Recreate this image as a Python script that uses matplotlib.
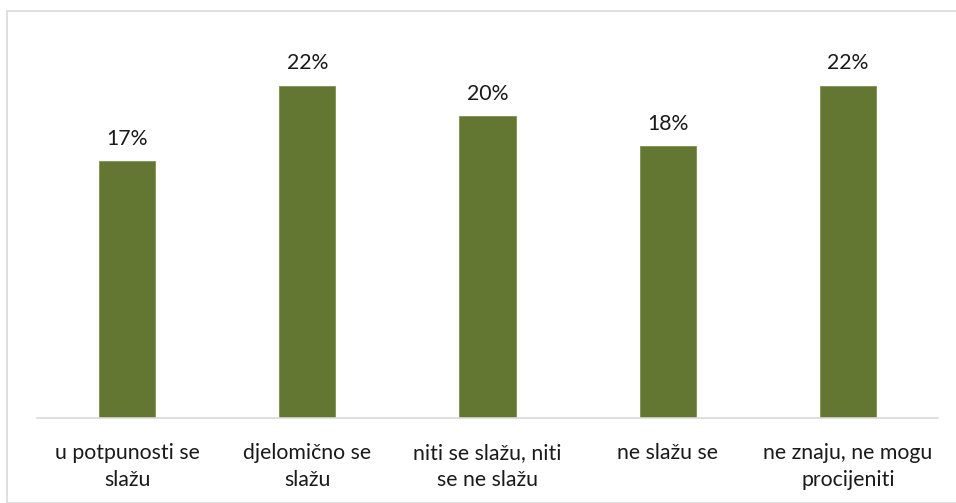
import matplotlib
matplotlib.use("Agg")
import matplotlib.pyplot as plt
from matplotlib.patches import Rectangle

categories = ["u potpunosti se\nslažu", "djelomično se\nslažu", "niti se slažu, niti\nse ne slažu",
              "ne slažu se", "ne znaju, ne mogu\nprocijeniti"]
values = [17, 22, 20, 18, 22]
labels = ["17%", "22%", "20%", "18%", "22%"]

plt.rcParams['font.family'] = ['Lato', 'DejaVu Sans']

W, H = 956, 503
fig = plt.figure(figsize=(W/100, H/100), dpi=100)
fig.patches.append(Rectangle((7/W, 0), 1, 1 - 11/H, transform=fig.transFigure,
                             fill=False, edgecolor="#d9d9d9", linewidth=1.2))
ax = fig.add_axes([37/W, 1 - 418/H, (938-37)/W, (418-40.5)/H])
x = range(len(values))
bars = ax.bar(x, values, width=0.311, color="#637632", edgecolor="#7f9150", linewidth=0.6)
ax.set_xlim(-0.5, len(values) - 0.5)
ax.set_ylim(0, 25)
for b, lab in zip(bars, labels):
    ax.annotate(lab, (b.get_x() + b.get_width()/2, b.get_height()), xytext=(0, 9),
                textcoords="offset points", ha="center", va="bottom", fontsize=15.3, color="#1a1a1a")
ax.set_xticks(list(x))
ax.set_xticklabels(categories, fontsize=15.3, color="#1a1a1a", linespacing=1.42, va="top")
ax.tick_params(axis="x", length=0, pad=18)
ax.set_yticks([])
for s in ["top", "right", "left"]:
    ax.spines[s].set_visible(False)
ax.spines["bottom"].set_color("#d9d9d9")
ax.spines["bottom"].set_linewidth(1.2)
fig.savefig("out.png", dpi=100)
